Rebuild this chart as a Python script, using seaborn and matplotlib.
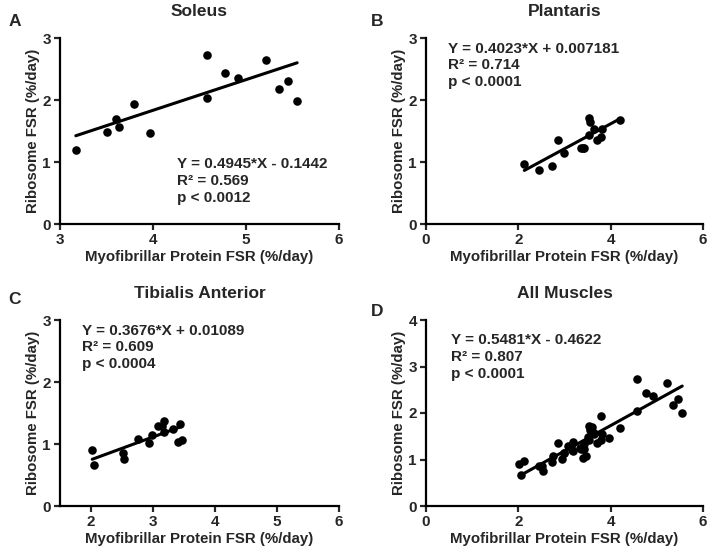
import matplotlib
matplotlib.use("Agg")
import matplotlib.pyplot as plt
import seaborn as sns
import pandas as pd
import numpy as np

sns.set_theme(style="ticks")
plt.rcParams['font.family'] = ['Liberation Sans', 'DejaVu Sans']
plt.rcParams['font.weight'] = 'bold'
plt.rcParams['axes.labelweight'] = 'bold'
plt.rcParams['axes.titleweight'] = 'bold'

# data (myofibrillar FSR, ribosome FSR)
soleus_x = [3.17, 3.50, 3.60, 3.63, 3.80, 3.97, 4.58, 4.58, 4.77, 4.91, 5.22, 5.35, 5.45, 5.55]
soleus_y = [1.20, 1.48, 1.70, 1.57, 1.93, 1.46, 2.73, 2.04, 2.43, 2.36, 2.64, 2.18, 2.30, 1.99]

plantaris_x = [2.13, 2.44, 2.74, 2.86, 2.98, 3.35, 3.39, 3.42, 3.53, 3.54, 3.55, 3.64, 3.70, 3.79, 3.82, 4.20]
plantaris_y = [0.97, 0.87, 0.94, 1.35, 1.14, 1.22, 1.22, 1.22, 1.43, 1.71, 1.64, 1.54, 1.36, 1.41, 1.54, 1.68]

ta_x = [2.02, 2.05, 2.51, 2.54, 2.76, 2.94, 2.99, 3.08, 3.15, 3.18, 3.18, 3.33, 3.40, 3.43, 3.46]
ta_y = [0.90, 0.66, 0.85, 0.76, 1.08, 1.02, 1.15, 1.29, 1.29, 1.37, 1.19, 1.24, 1.04, 1.33, 1.07]

all_x = soleus_x + plantaris_x + ta_x
all_y = soleus_y + plantaris_y + ta_y

titles = ["Soleus", "Plantaris", "Tibialis Anterior", "All Muscles"]
letters = ["A", "B", "C", "D"]
slopes = [0.4945, 0.4023, 0.3676, 0.5481]
intercepts = [-0.1442, 0.007181, 0.01089, -0.4622]
eq_text = ["Y = 0.4945*X - 0.1442", "Y = 0.4023*X + 0.007181",
           "Y = 0.3676*X + 0.01089", "Y = 0.5481*X - 0.4622"]
r2_text = ["R² = 0.569", "R² = 0.714", "R² = 0.609", "R² = 0.807"]
p_text = ["p < 0.0012", "p < 0.0001", "p < 0.0004", "p < 0.0001"]

xlims = [(3, 6), (0, 6), (1.5, 6), (0, 6)]
xticks = [[3, 4, 5, 6], [0, 2, 4, 6], [2, 3, 4, 5, 6], [0, 2, 4, 6]]
ylims = [(0, 3), (0, 3), (0, 3), (0, 4)]
yticks = [[0, 1, 2, 3], [0, 1, 2, 3], [0, 1, 2, 3], [0, 1, 2, 3, 4]]
text_pos = [(0.42, 0.36), (0.08, 0.98), (0.08, 0.98), (0.09, 0.93)]

datasets = [(soleus_x, soleus_y), (plantaris_x, plantaris_y), (ta_x, ta_y), (all_x, all_y)]

fig = plt.figure(figsize=(7.09, 5.55), dpi=100)
W, H = 709, 555
# axes boxes in pixels: left, top, right, bottom
boxes = [(60, 38, 339, 224), (426, 38, 703, 224), (60, 320, 339, 506), (426, 320, 703, 506)]
letter_pos = [(15, 22), (377, 22), (15, 300), (377, 312)]

for i in range(4):
    l, t, r, b = boxes[i]
    ax = fig.add_axes([l / W, 1 - b / H, (r - l) / W, (b - t) / H])
    x, y = datasets[i]
    df = pd.DataFrame({"x": x, "y": y})
    sns.scatterplot(data=df, x="x", y="y", ax=ax, color="black", s=38, edgecolor="black", linewidth=0)
    fx = np.array([min(x), max(x)])
    fit = pd.DataFrame({"x": fx, "y": slopes[i] * fx + intercepts[i]})
    sns.lineplot(data=fit, x="x", y="y", ax=ax, color="black", linewidth=2.2)

    ax.set_xlim(*xlims[i])
    ax.set_ylim(*ylims[i])
    ax.set_xticks(xticks[i])
    ax.set_yticks(yticks[i])
    ax.set_title(titles[i], fontsize=12.5, fontweight="bold", pad=15.5)
    ax.set_xlabel("Myofibrillar Protein FSR (%/day)", fontsize=10.8, fontweight="bold", labelpad=2.5)
    ax.set_ylabel("Ribosome FSR (%/day)", fontsize=10.8, fontweight="bold", labelpad=2)
    ax.tick_params(width=1.6, length=4.5, labelsize=11, pad=2)
    for lab in ax.get_xticklabels() + ax.get_yticklabels():
        lab.set_fontweight("bold")
    sns.despine(ax=ax)
    for s in ["left", "bottom"]:
        ax.spines[s].set_linewidth(1.6)
        ax.spines[s].set_color("black")

    tx, ty = text_pos[i]
    ax.text(tx, ty, eq_text[i] + "\n" + r2_text[i] + "\n" + p_text[i],
            transform=ax.transAxes, ha="left", va="top", fontsize=11,
            fontweight="bold", linespacing=1.25)

    lx, ly = letter_pos[i]
    fig.text(lx / W, 1 - ly / H, letters[i], fontsize=12.5, fontweight="bold", ha="center", va="center")

fig.savefig("out.png", dpi=100)
